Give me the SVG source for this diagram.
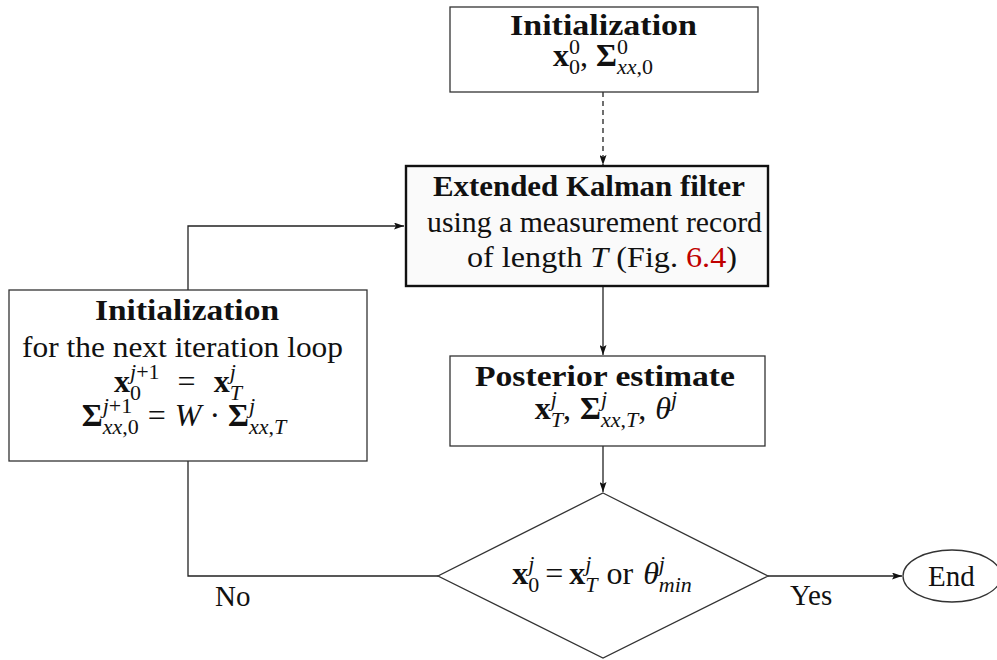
<svg xmlns="http://www.w3.org/2000/svg" width="997" height="660" viewBox="0 0 997 660">
<style>
.t{font-family:"Liberation Serif","Times New Roman",serif;font-size:29px;fill:#111;}
.m{font-size:32px;}
.b{font-weight:bold;}
.i{font-style:italic;}
.s{font-size:22px;}
.box{fill:#fff;stroke:#333;stroke-width:1.3;}
.ekf{fill:#fafafa;stroke:#111;stroke-width:2.4;}
.edge{fill:none;stroke:#222;stroke-width:1.3;}
.dash{stroke-dasharray:5 4;}
.red{fill:#c00000;}
</style>
<defs>
<marker id="ah" viewBox="0 0 10 7" refX="10" refY="3.5" markerWidth="10" markerHeight="7" markerUnits="userSpaceOnUse" orient="auto"><path d="M0,0 L10,3.5 L0,7 L2,3.5 z" fill="#111"/></marker>
</defs>
<rect width="997" height="660" fill="#fff"/>
<g id="connectors">
<path class="edge dash" d="M603,92 L603,165" marker-end="url(#ah)"/>
<path class="edge" d="M603,287 L603,355" marker-end="url(#ah)"/>
<path class="edge" d="M603,446 L603,492" marker-end="url(#ah)"/>
<path class="edge" d="M768,576 L902,576" marker-end="url(#ah)"/>
<path class="edge" d="M438,576 L188,576 L188,461"/>
<path class="edge" d="M188,290 L188,226 L404,226" marker-end="url(#ah)"/>
</g>
<g id="init-top">
<rect class="box" x="450" y="7" width="308" height="85"/>
<text class="t b" x="510" y="35" textLength="187" lengthAdjust="spacingAndGlyphs">Initialization</text>
<text class="t m" x="603" y="66" text-anchor="middle"><tspan class="b">x</tspan><tspan class="s" dy="-12">0</tspan><tspan class="s" dx="-11" dy="20">0</tspan><tspan dy="-8">, </tspan><tspan class="b">Σ</tspan><tspan class="s" dy="-12">0</tspan><tspan class="s" dx="-11" dy="20"><tspan class="i">xx</tspan>,0</tspan></text>
</g>
<g id="ekf">
<rect class="ekf" x="406" y="166" width="362" height="120"/>
<text class="t b" x="433" y="196" textLength="312" lengthAdjust="spacingAndGlyphs">Extended Kalman filter</text>
<text class="t" x="427" y="232" textLength="335" lengthAdjust="spacingAndGlyphs">using a measurement record</text>
<text class="t" x="467" y="267" textLength="270" lengthAdjust="spacingAndGlyphs">of length <tspan class="i">T</tspan> (Fig. <tspan class="red">6.4</tspan>)</text>
</g>
<g id="posterior">
<rect class="box" x="450" y="356" width="315" height="90"/>
<text class="t b" x="475" y="386" textLength="260" lengthAdjust="spacingAndGlyphs">Posterior estimate</text>
<text class="t m" x="606" y="419" text-anchor="middle"><tspan class="b">x</tspan><tspan class="s i" dy="-13">j</tspan><tspan class="s i" dx="-6.1" dy="21">T</tspan><tspan dy="-8">,</tspan><tspan class="b" dx="9">Σ</tspan><tspan class="s i" dy="-13">j</tspan><tspan class="s" dx="-6.1" dy="21"><tspan class="i">xx</tspan>,<tspan class="i">T</tspan></tspan><tspan dy="-8">,</tspan><tspan class="i" dx="9">θ</tspan><tspan class="s i" dy="-13">j</tspan></text>
</g>
<g id="init-loop">
<rect class="box" x="9" y="290" width="358" height="171"/>
<text class="t b" x="95" y="320" textLength="184" lengthAdjust="spacingAndGlyphs">Initialization</text>
<text class="t" x="22" y="357" textLength="321" lengthAdjust="spacingAndGlyphs">for the next iteration loop</text>
<text class="t m" x="178" y="392" text-anchor="middle"><tspan class="b">x</tspan><tspan class="s" dy="8">0</tspan><tspan class="s" dx="-11" dy="-21"><tspan class="i">j</tspan>+1</tspan><tspan dx="18" dy="13">=</tspan><tspan class="b" dx="18">x</tspan><tspan class="s i" dy="-13">j</tspan><tspan class="s i" dx="-6.1" dy="21">T</tspan></text>
<text class="t m" x="184" y="426" text-anchor="middle"><tspan class="b">Σ</tspan><tspan class="s" dy="-13"><tspan class="i">j</tspan>+1</tspan><tspan class="s" dx="-29.5" dy="21"><tspan class="i">xx</tspan>,0</tspan><tspan dx="9" dy="-8">=</tspan><tspan class="i" dx="9">W</tspan><tspan dx="8">·</tspan><tspan class="b" dx="8">Σ</tspan><tspan class="s i" dy="-13">j</tspan><tspan class="s" dx="-6.1" dy="21"><tspan class="i">xx</tspan>,<tspan class="i">T</tspan></tspan></text>
</g>
<g id="decision">
<polygon class="box" points="603,493 768,576 603,658 438,576"/>
<text class="t m" x="602" y="584" text-anchor="middle"><tspan class="b">x</tspan><tspan class="s i" dy="-13">j</tspan><tspan class="s" dx="-6.1" dy="21">0</tspan><tspan dx="6" dy="-8">=</tspan><tspan class="b" dx="6">x</tspan><tspan class="s i" dy="-13">j</tspan><tspan class="s i" dx="-6.1" dy="21">T</tspan><tspan dx="9" dy="-8">or</tspan><tspan class="i" dx="10">θ</tspan><tspan class="s i" dy="-13">j</tspan><tspan class="s i" dx="-6.1" dy="21">min</tspan></text>
</g>
<g id="end">
<ellipse class="box" cx="952" cy="576" rx="49" ry="26"/>
<text class="t" x="928" y="586">End</text>
</g>
<g id="labels">
<text class="t" x="790" y="605">Yes</text>
<text class="t" x="215" y="606">No</text>
</g>
</svg>
